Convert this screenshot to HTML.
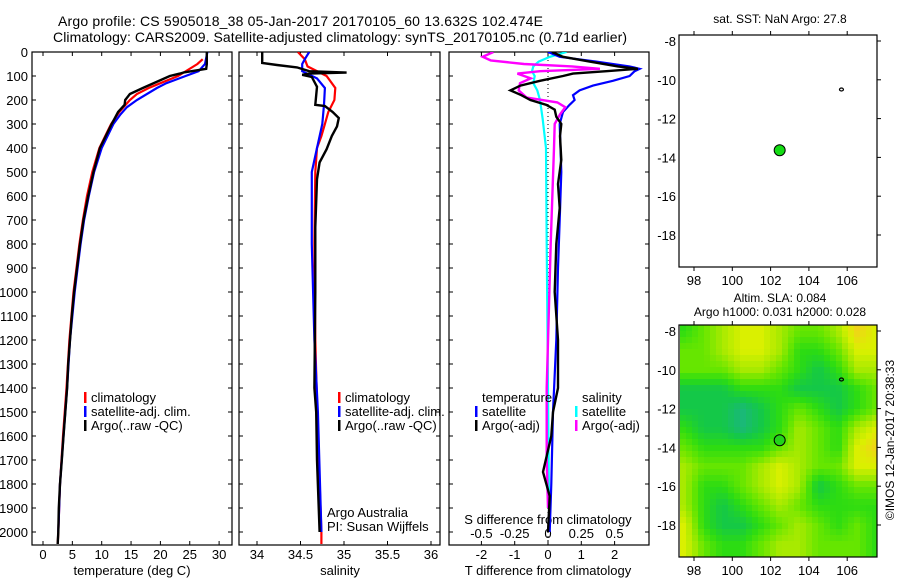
<!DOCTYPE html>
<html><head><meta charset="utf-8">
<style>
html,body{margin:0;padding:0;background:#fff;}
svg{display:block;font-family:"Liberation Sans",sans-serif;}
text{fill:#000;}
</style></head>
<body>
<svg id="fig" width="900" height="580" viewBox="0 0 900 580">
<defs>
<clipPath id="c1"><rect x="32" y="52" width="200" height="493"/></clipPath>
<clipPath id="c2"><rect x="239" y="52" width="201" height="493"/></clipPath>
<clipPath id="c3"><rect x="449" y="52" width="200" height="493"/></clipPath>
<clipPath id="cm"><rect x="680" y="325" width="197" height="232"/></clipPath>
</defs>
<text x="58" y="26" font-size="14" textLength="485">Argo profile: CS 5905018_38 05-Jan-2017 20170105_60 13.632S 102.474E</text>
<text x="53" y="42" font-size="14" textLength="574">Climatology: CARS2009. Satellite-adjusted climatology: synTS_20170105.nc (0.71d earlier)</text>
<g id="heat" clip-path="url(#cm)"></g>
<g id="plots"></g>
<text x="780" y="23" font-size="12" text-anchor="middle">sat. SST: NaN Argo: 27.8</text>
<text x="780" y="302" font-size="12" text-anchor="middle">Altim. SLA: 0.084</text>
<text x="780" y="316" font-size="12" text-anchor="middle">Argo h1000: 0.031 h2000: 0.028</text>
<text transform="translate(894,440) rotate(-90)" font-size="12" text-anchor="middle">©IMOS 12-Jan-2017 20:38:33</text>
</svg>
<script>
// ---------- data ----------
const depthTicks=[0,100,200,300,400,500,600,700,800,900,1000,1100,1200,1300,1400,1500,1600,1700,1800,1900,2000];
const tempTicks=[0,5,10,15,20,25,30];
const salTicks=[34,34.5,35,35.5,36];
const tdiffTicks=[-2,-1,0,1,2];
const sdiffTicks=[-0.5,-0.25,0,0.25,0.5];
const lonTicks=[98,100,102,104,106];
const latTicks=[-8,-10,-12,-14,-16,-18];

const tArgoD=[0,50,70,85,90,100,150,175,200,220,250,300,400,500,600,700,800,900,1000,1100,1200,1300,1400,1500,1600,1700,1800,1900,2000,2050];
const tArgoV=[27.9,27.9,27.8,24,23.3,21.6,17,14.8,14,13.9,12.8,11.7,9.7,8.6,7.7,6.9,6.3,5.8,5.3,4.9,4.6,4.3,4.1,3.8,3.5,3.2,2.9,2.7,2.6,2.5];
const tClimD=[30,50,100,130,150,175,200,250,300,400,500,600,700,800,900,1000,1200,1400,1600,1800,2000,2050];
const tClimV=[27.2,26.3,23,20,18,16,14.8,13,11.6,9.6,8.4,7.5,6.8,6.2,5.7,5.2,4.5,4.0,3.4,2.9,2.6,2.5];
const tSatD=[0,50,80,100,130,150,200,230,260,300,400,500,600,700,800,900,1000,1200,1400,1600,1800,2000];
const tSatV=[28,27.6,26.5,24.3,21,19.4,16,14.3,13.2,12,10,8.7,7.8,7,6.4,5.9,5.4,4.6,4.1,3.5,2.9,2.6];

const sArgoD=[0,46,54,64,80,86,90,95,104,145,180,220,225,250,275,310,350,405,460,530,730,1000,1400,1500,1700,2000];
const sArgoV=[34.06,34.06,34.23,34.46,34.6,35.03,34.6,34.52,34.63,34.69,34.68,34.67,34.78,34.87,34.94,34.92,34.86,34.8,34.72,34.69,34.67,34.67,34.66,34.68,34.69,34.72];
const sClimD=[0,30,60,100,150,200,250,300,350,400,500,800,1200,1600,2000,2050];
const sClimV=[34.47,34.55,34.58,34.8,34.9,34.89,34.82,34.78,34.74,34.69,34.67,34.66,34.67,34.7,34.74,34.74];
const sSatD=[0,30,50,80,110,150,220,300,400,500,800,1200,1500,2000];
const sSatV=[34.6,34.55,34.52,34.52,34.69,34.78,34.77,34.75,34.69,34.63,34.63,34.66,34.7,34.74];

const dTArgoD=[0,20,40,60,70,80,90,100,120,140,160,180,200,220,240,270,300,350,450,550,650,800,1000,1200,1400,1500,1600,1750,1850,2000];
const dTArgoV=[0.12,0.45,1.25,2.1,2.7,1.75,0.75,0.45,-0.24,-0.83,-1.13,-0.8,-0.53,-0.05,0.2,0.25,0.4,0.36,0.4,0.3,0.35,0.25,0.2,0.3,0.3,0.15,0.1,-0.15,0.05,0];
const dTSatD=[0,20,40,60,70,80,100,120,140,160,180,200,220,250,300,500,700,900,1200,1500,1800,2000];
const dTSatV=[0,0.35,1.45,2.45,2.75,2.6,2.45,1.95,1.35,0.95,0.75,0.8,0.65,0.45,0.35,0.4,0.35,0.3,0.25,0.15,0.1,0.05];
const dSArgoD=[0,20,35,50,60,70,80,90,110,130,160,190,210,230,260,300,400,800,1400,1700,1900];
const dSArgoV=[-0.41,-0.49,-0.43,-0.18,0.18,0.39,-0.06,-0.23,-0.13,-0.21,-0.22,-0.16,0.07,0.13,0.09,0.05,0.045,0.02,-0.01,-0.01,0];
const dSSatD=[0,20,40,60,80,100,130,160,200,280,400,800,1400,2000];
const dSSatV=[0.14,0.015,-0.07,-0.11,-0.12,-0.1,-0.11,-0.08,-0.06,-0.04,-0.015,-0.01,0,0.01];

const slaLon=[97.5,98.5,99.5,100.5,101.5,102.5,103.5,104.5,105.5,106.5,107.5];
const slaLat=[-8,-9,-10,-11,-12,-13,-14,-15,-16,-17,-18,-19];
const slaGrid=[
[2,3,4,5,5,4,3,3,4,6,5],
[3,3,4,5,5,4,2,2,3,5,5],
[3,3,3,4,4,3,2,1,2,4,4],
[1,1,1,2,2,2,1,1,1,2,3],
[1,1,1,0,1,2,3,2,1,2,3],
[2,1,1,0,1,2,4,3,2,4,5],
[3,2,2,2,2,3,4,3,2,5,6],
[4,3,3,3,4,5,4,3,3,5,5],
[4,2,2,3,4,5,4,1,2,3,3],
[4,2,1,2,3,4,3,2,2,2,2],
[5,2,1,1,2,3,4,3,2,3,2],
[5,3,2,2,3,4,4,3,3,3,2]];
const argoPos=[102.474,-13.632];
const islandPos=[105.7,-10.5];

// ---------- scales ----------
const NS="http://www.w3.org/2000/svg";
const yD=d=>52+d*0.24;
const xT=t=>43+t*5.87;
const xS=s=>257+(s-34)*87;
const xDT=v=>548+v*33.3;
const xDS=v=>548+v*4*33.3;
const xLon=l=>694+(l-98)*19.15;
const yLat=(l,off)=>41+off+(-l-8)*19.4;
const plots=document.getElementById('plots');
function el(tag,attrs,parent){const e=document.createElementNS(NS,tag);for(const k in attrs)e.setAttribute(k,attrs[k]);(parent||plots).appendChild(e);return e;}
function txt(x,y,s,size,anchor,parent){const t=el('text',{x:x,y:y,'font-size':size,'text-anchor':anchor||'start'},parent);t.textContent=s;return t;}

function line(ds,vs,xf,color,w,clip,name){
  const pts=ds.map((d,i)=>xf(vs[i]).toFixed(1)+','+yD(d).toFixed(1)).join(' ');
  const p=el('polyline',{points:pts,fill:'none',stroke:color,'stroke-width':w,'clip-path':'url(#'+clip+')','stroke-linejoin':'miter'});
  
  
}
function panel(x0,x1,name){
  const r=el('rect',{x:x0,y:52,width:x1-x0,height:493,fill:'none',stroke:'#000','stroke-width':1.2});
  
  
  depthTicks.forEach(d=>{el('line',{x1:x0,x2:x0+4,y1:yD(d),y2:yD(d),stroke:'#000'});el('line',{x1:x1-4,x2:x1,y1:yD(d),y2:yD(d),stroke:'#000'});});
}
// panel 1
panel(32,232,'temperature-panel');
depthTicks.forEach(d=>{const t=txt(28,yD(d)+5,String(d),13,'end');});
tempTicks.forEach(v=>{const x=xT(v);el('line',{x1:x,x2:x,y1:52,y2:56,stroke:'#000'});el('line',{x1:x,x2:x,y1:541,y2:545,stroke:'#000'});const t=txt(x,559,String(v),13,'middle');});
{const t=txt(132,575,'temperature (deg C)',13,'middle');}
line(tClimD,tClimV,xT,'#f00',2.2,'c1','temp-climatology-line');
line(tSatD,tSatV,xT,'#00f',2.2,'c1','temp-satellite-line');
line(tArgoD,tArgoV,xT,'#000',2.4,'c1','temp-argo-line');
// panel 2
panel(239,440,'salinity-panel');
salTicks.forEach(v=>{const x=xS(v);el('line',{x1:x,x2:x,y1:52,y2:56,stroke:'#000'});el('line',{x1:x,x2:x,y1:541,y2:545,stroke:'#000'});const t=txt(x,559,String(v),13,'middle');});
{const t=txt(340,575,'salinity',13,'middle');}
line(sClimD,sClimV,xS,'#f00',2.2,'c2','sal-climatology-line');
line(sSatD,sSatV,xS,'#00f',2.2,'c2','sal-satellite-line');
line(sArgoD,sArgoV,xS,'#000',2.4,'c2','sal-argo-line');
// panel 3
panel(449,649,'difference-panel');
el('line',{x1:548,x2:548,y1:52,y2:545,stroke:'#000','stroke-dasharray':'1,3'});
tdiffTicks.forEach(v=>{const x=xDT(v);el('line',{x1:x,x2:x,y1:52,y2:56,stroke:'#000'});el('line',{x1:x,x2:x,y1:541,y2:545,stroke:'#000'});const t=txt(x,559,String(v),13,'middle');});
sdiffTicks.forEach(v=>{const t=txt(xDS(v),538,String(v),13,'middle');});
{const t=txt(548,575,'T difference from climatology',13,'middle');}
{const t=txt(548,524,'S difference from climatology',13,'middle');}
line(dSSatD,dSSatV,xDS,'#0ff',2.2,'c3','sdiff-satellite-line');
line(dTSatD,dTSatV,xDT,'#00f',2.2,'c3','tdiff-satellite-line');
line(dSArgoD,dSArgoV,xDS,'#f0f',2.4,'c3','sdiff-argo-line');
line(dTArgoD,dTArgoV,xDT,'#000',2.4,'c3','tdiff-argo-line');

// legends
function leg(x,y,color,label,name){const g=el('g',{});
  if(color)el('rect',{x:x,y:y-10,width:2.5,height:11,fill:color},g);txt(x+7,y,label,13,'start',g);}
leg(84,402,'#f00','climatology','legend-climatology-temp');
leg(84,416,'#00f','satellite-adj. clim.','legend-satellite-temp');
leg(84,430,'#000','Argo(..raw -QC)','legend-argo-temp');
leg(338,402,'#f00','climatology','legend-climatology-sal');
leg(338,416,'#00f','satellite-adj. clim.','legend-satellite-sal');
leg(338,430,'#000','Argo(..raw -QC)','legend-argo-sal');
leg(475,402,null,'temperature','legend-header-temp');
leg(475,416,'#00f','satellite','legend-tdiff-satellite');
leg(475,430,'#000','Argo(-adj)','legend-tdiff-argo');
leg(575,402,null,'salinity','legend-header-sal');
leg(575,416,'#0ff','satellite','legend-sdiff-satellite');
leg(575,430,'#f0f','Argo(-adj)','legend-sdiff-argo');
{const t=txt(327,517,'Argo Australia',13);}
{const t=txt(327,531,'PI: Susan Wijffels',13);}

// heatmap
const cols=['#1ab87a','#14c848','#2cdc12','#66e600','#a8ea00','#daf000','#f0d418'];
function hexRGB(h){return [1,3,5].map(i=>parseInt(h.substr(i,2),16));}
const cRGB=cols.map(hexRGB);
function cmap(v){v=Math.max(0,Math.min(6,v));const i=Math.min(5,Math.floor(v)),f=v-i;const a=cRGB[i],b=cRGB[i+1];return 'rgb('+a.map((c,k)=>Math.round(c+(b[k]-c)*f)).join(',')+')';}
function sample(lon,lat){
  let fx=(lon-slaLon[0])/(slaLon[1]-slaLon[0]);let fy=(lat-slaLat[0])/(slaLat[1]-slaLat[0]);
  fx=Math.max(0,Math.min(slaLon.length-1.001,fx));fy=Math.max(0,Math.min(slaLat.length-1.001,fy));
  const i=Math.floor(fx),j=Math.floor(fy),u=fx-i,w=fy-j;
  return slaGrid[j][i]*(1-u)*(1-w)+slaGrid[j][i+1]*u*(1-w)+slaGrid[j+1][i]*(1-u)*w+slaGrid[j+1][i+1]*u*w;
}
const heat=document.getElementById('heat');
for(let px=680;px<877;px+=6){for(let py=325;py<557;py+=6){
  const lon=98+(px+3-694)/19.15, lat=-8-(py+3-331)/19.4;
  const r=el('rect',{x:px,y:py,width:6.5,height:6.5,fill:cmap(sample(lon,lat))},heat);
  
  
}}

// maps
function map(off,name,dotFill){
  const r=el('rect',{x:679,y:35+off,width:198,height:232,fill:'none',stroke:'#000','stroke-width':1.2});
  
  
  lonTicks.forEach(v=>{const x=xLon(v);el('line',{x1:x,x2:x,y1:35+off,y2:31+off,stroke:'#000'});el('line',{x1:x,x2:x,y1:267+off,y2:271+off,stroke:'#000'});const t=txt(x,285+off,String(v),13,'middle');});
  latTicks.forEach(v=>{const y=yLat(v,off);el('line',{x1:877,x2:881,y1:y,y2:y,stroke:'#000'});const t=txt(676,y+5,String(v),13,'end');});
  const c=el('circle',{cx:xLon(argoPos[0]),cy:yLat(argoPos[1],off),r:5.5,fill:dotFill,stroke:'#000','stroke-width':1});
  
  
  const s=el('ellipse',{cx:xLon(islandPos[0]),cy:yLat(islandPos[1],off),rx:2,ry:1.5,fill:'none',stroke:'#000','stroke-width':1.2});
  
  
}
map(0,'sst-map','#14dc14');
map(290,'sla-map','#22d41a');
</script>
</body></html>
